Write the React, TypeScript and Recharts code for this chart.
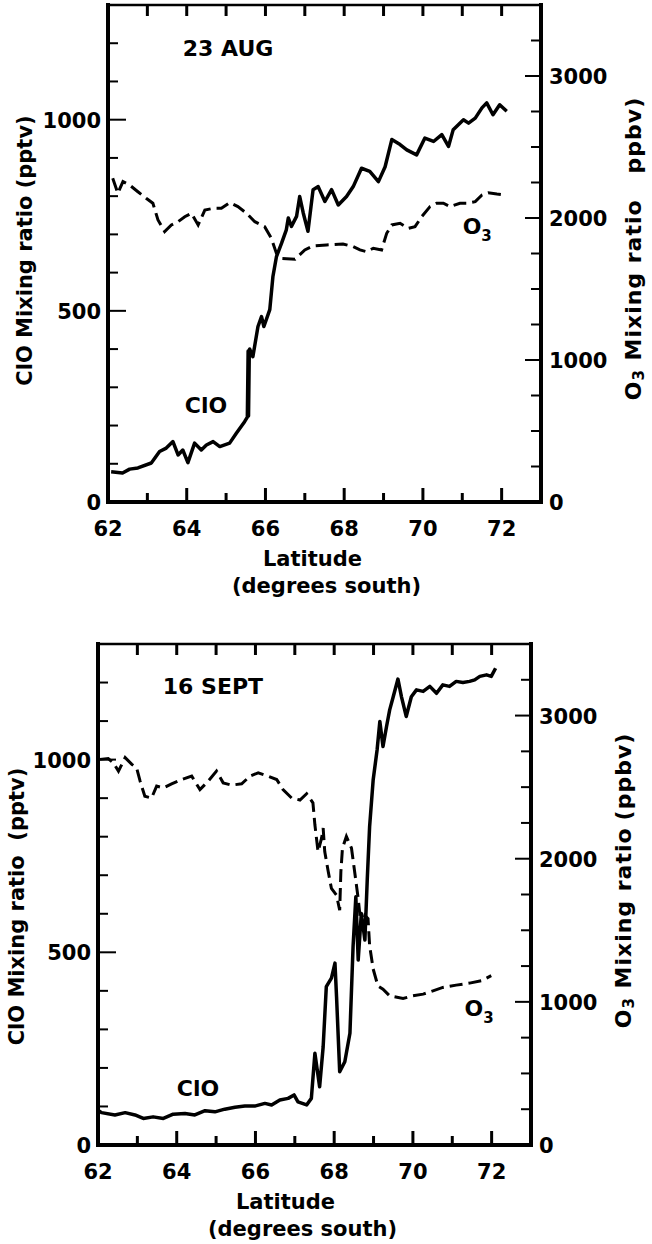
import React from 'react';
import { LineChart, Line, XAxis, YAxis, ReferenceDot } from 'recharts';

const FONT = '"DejaVu Sans", Verdana, sans-serif';

// 23 AUG - ClO (pptv)
const AUG_CLO_LAT = [62.08, 62.37, 62.55, 62.76, 63.1, 63.31, 63.48, 63.65, 63.78, 63.9, 64.03, 64.2, 64.37, 64.5, 64.67, 64.84, 65.09, 65.26, 65.47, 65.54, 65.56, 65.57, 65.59, 65.6, 65.68, 65.81, 65.9, 65.96, 66.11, 66.19, 66.28, 66.41, 66.53, 66.58, 66.66, 66.79, 66.87, 66.96, 67.08, 67.21, 67.34, 67.51, 67.68, 67.85, 68.06, 68.23, 68.44, 68.65, 68.87, 69.04, 69.21, 69.42, 69.59, 69.84, 70.05, 70.27, 70.48, 70.65, 70.77, 71.03, 71.16, 71.33, 71.5, 71.62, 71.78, 71.95, 72.13];
const AUG_CLO = [79, 76, 86, 89, 102, 132, 141, 158, 123, 136, 103, 154, 136, 149, 158, 145, 154, 180, 210, 222, 395, 225, 398, 400, 380, 459, 485, 459, 503, 590, 642, 677, 712, 743, 721, 747, 799, 756, 708, 817, 825, 786, 817, 777, 799, 825, 873, 865, 838, 877, 948, 935, 921, 908, 952, 943, 961, 930, 974, 1000, 991, 1004, 1031, 1044, 1013, 1039, 1022];

// 23 AUG - O3 (ppbv)
const AUG_O3_LAT = [62.12, 62.25, 62.38, 62.55, 62.76, 62.97, 63.14, 63.27, 63.44, 63.61, 63.78, 63.95, 64.12, 64.29, 64.46, 64.67, 64.88, 65.09, 65.3, 65.52, 65.73, 65.98, 66.15, 66.28, 66.41, 66.75, 67.0, 67.21, 67.55, 67.97, 68.23, 68.4, 68.57, 68.74, 68.95, 69.08, 69.21, 69.42, 69.63, 69.8, 69.97, 70.18, 70.35, 70.52, 70.69, 70.94, 71.11, 71.33, 71.5, 71.66, 71.88, 72.09];
const AUG_O3 = [2280, 2174, 2256, 2232, 2185, 2139, 2104, 1986, 1904, 1951, 1974, 2009, 2033, 1951, 2056, 2068, 2068, 2108, 2080, 2033, 1974, 1939, 1857, 1751, 1716, 1709, 1775, 1803, 1810, 1817, 1798, 1775, 1763, 1787, 1775, 1892, 1951, 1963, 1927, 1939, 2009, 2080, 2104, 2104, 2080, 2104, 2104, 2115, 2162, 2178, 2169, 2162];

// 16 SEPT - ClO (pptv)
const SEP_CLO_LAT = [62.0, 62.09, 62.43, 62.69, 62.94, 63.15, 63.4, 63.66, 63.91, 64.21, 64.46, 64.72, 64.97, 65.22, 65.48, 65.73, 65.98, 66.24, 66.41, 66.62, 66.83, 66.98, 67.08, 67.3, 67.42, 67.51, 67.63, 67.72, 67.8, 67.93, 68.02, 68.06, 68.14, 68.27, 68.4, 68.48, 68.55, 68.61, 68.69, 68.78, 68.84, 68.9, 68.99, 69.09, 69.16, 69.24, 69.33, 69.41, 69.5, 69.62, 69.71, 69.83, 69.96, 70.09, 70.26, 70.43, 70.6, 70.76, 70.93, 71.1, 71.27, 71.44, 71.57, 71.7, 71.87, 71.99, 72.1];
const SEP_CLO = [90, 84, 78, 84, 78, 69, 73, 69, 80, 82, 78, 89, 86, 93, 98, 101, 101, 108, 104, 117, 121, 130, 112, 104, 121, 238, 151, 255, 411, 433, 472, 385, 190, 216, 290, 515, 644, 480, 601, 532, 688, 826, 947, 1025, 1099, 1034, 1086, 1129, 1163, 1209, 1163, 1112, 1163, 1181, 1177, 1190, 1172, 1194, 1190, 1203, 1200, 1203, 1207, 1216, 1220, 1216, 1237];

// 16 SEPT - O3 (ppbv)
const SEP_O3_LAT = [62.05, 62.26, 62.39, 62.52, 62.69, 62.86, 62.98, 63.07, 63.19, 63.36, 63.49, 63.66, 63.87, 64.12, 64.38, 64.59, 64.8, 65.01, 65.18, 65.39, 65.65, 65.86, 66.07, 66.32, 66.54, 66.7, 66.92, 67.13, 67.3, 67.46, 67.51, 67.59, 67.68, 67.72, 67.76, 67.85, 67.93, 68.06, 68.14, 68.17, 68.21, 68.31, 68.44, 68.52, 68.61, 68.69, 68.78, 68.86, 68.9, 68.99, 69.11, 69.24, 69.41, 69.75, 70.0, 70.26, 70.51, 70.76, 71.1, 71.44, 71.74, 71.99];
const SEP_O3 = [2694, 2700, 2670, 2612, 2706, 2659, 2635, 2542, 2436, 2424, 2507, 2495, 2523, 2553, 2577, 2483, 2542, 2612, 2530, 2514, 2523, 2577, 2600, 2577, 2553, 2483, 2424, 2410, 2454, 2390, 2237, 2050, 2143, 2214, 2050, 1909, 1792, 1745, 1640, 1909, 2073, 2155, 2073, 1909, 1722, 1511, 1604, 1581, 1394, 1230, 1112, 1089, 1042, 1024, 1042, 1054, 1077, 1101, 1117, 1131, 1148, 1183];

const LAT_TICKS = [62, 63, 64, 65, 66, 67, 68, 69, 70, 71, 72, 73];
const LAT_LABELS = [62, 64, 66, 68, 70, 72];
const CLO_TICKS = [0, 100, 200, 300, 400, 500, 600, 700, 800, 900, 1000, 1100, 1200];
const CLO_LABELS = [0, 500, 1000];
const O3_TICKS = [0, 250, 500, 750, 1000, 1250, 1500, 1750, 2000, 2250, 2500, 2750, 3000, 3250];
const O3_LABELS = [0, 1000, 2000, 3000];

const zip = (lat: number[], v: number[]) => lat.map((l, i) => ({ lat: l, v: v[i] }));

const txt = { fontFamily: FONT, fontWeight: 'bold' as const, fill: '#000' };

const BottomTick = (props: any) => {
  const { x, y, payload } = props;
  const v = payload.value;
  const major = LAT_LABELS.includes(v);
  return (
    <g>
      <line x1={x} x2={x} y1={y} y2={y - (major ? 14 : 9)} stroke="#000" strokeWidth={3} />
      {major && (
        <text x={x} y={y + 34} textAnchor="middle" fontSize={21} {...txt}>
          {v}
        </text>
      )}
    </g>
  );
};

const TopTick = (props: any) => {
  const { x, y } = props;
  return <line x1={x} x2={x} y1={y} y2={y + 11} stroke="#000" strokeWidth={3} />;
};

const LeftTick = (props: any) => {
  const { x, y, payload } = props;
  const major = CLO_LABELS.includes(payload.value);
  return (
    <g>
      <line x1={x} x2={x + (major ? 18 : 10)} y1={y} y2={y} stroke="#000" strokeWidth={2} />
      {major && (
        <text x={x - 7} y={y + 8} textAnchor="end" fontSize={21} {...txt}>
          {payload.value}
        </text>
      )}
    </g>
  );
};

const RightTick = (props: any) => {
  const { x, y, payload } = props;
  const major = O3_LABELS.includes(payload.value);
  return (
    <g>
      <line x1={x} x2={x - (major ? 16 : 10)} y1={y} y2={y} stroke="#000" strokeWidth={2} />
      {major && (
        <text x={x + 8} y={y + 8} textAnchor="start" fontSize={21} {...txt}>
          {payload.value}
        </text>
      )}
    </g>
  );
};

const axisLine = { stroke: '#000', strokeWidth: 4, strokeLinecap: 'square' as const };

type PanelProps = {
  height: number;
  plotTop: number;
  left: number;
  right: number;
  xAxisHeight: number;
  clo: { lat: number; v: number }[];
  o3: { lat: number; v: number }[];
  date: string;
  datePos: [number, number];
  cloPos: [number, number];
  o3Pos: [number, number];
  leftTitle: string;
  leftTitleX: number;
  leftTitleDy: number;
  rightTitleX: number;
  rightTitleDy: number;
  rightOpen: boolean;
  latDx: number;
  degDx: number;
};

const Panel = (p: PanelProps) => {
  const leftLabel = ({ viewBox }: any) => (
    <text
      transform={`translate(${p.leftTitleX},${viewBox.y + viewBox.height / 2 + p.leftTitleDy}) rotate(-90)`}
      textAnchor="middle"
      dominantBaseline="central"
      fontSize={21}
      {...txt}
      style={{ whiteSpace: 'pre' }}
    >
      {p.leftTitle}
    </text>
  );

  const rightLabel = ({ viewBox }: any) => (
    <text
      transform={`translate(${p.rightTitleX},${viewBox.y + viewBox.height / 2 + p.rightTitleDy}) rotate(-90)`}
      textAnchor="middle"
      dominantBaseline="central"
      fontSize={22}
      letterSpacing={1}
      {...txt}
    >
      <tspan>O</tspan>
      <tspan fontSize={15} dy={6}>3</tspan>
      <tspan dy={-6}> Mixing ratio</tspan>
      {p.rightOpen ? <tspan dx={26}>ppbv)</tspan> : <tspan dx={7}>(ppbv)</tspan>}
    </text>
  );

  const xLabel = ({ viewBox }: any) => {
    const cx = viewBox.x + viewBox.width / 2;
    return (
      <g>
        <text x={cx + p.latDx} y={viewBox.y + 64} textAnchor="middle" fontSize={21} {...txt}>
          Latitude
        </text>
        <text x={cx + p.degDx} y={viewBox.y + 91} textAnchor="middle" fontSize={21} {...txt}>
          (degrees south)
        </text>
      </g>
    );
  };

  const o3Label = ({ viewBox }: any) => (
    <text x={viewBox.x} y={viewBox.y + 8} textAnchor="start" fontSize={22} {...txt}>
      <tspan>O</tspan>
      <tspan fontSize={15} dy={7}>3</tspan>
    </text>
  );

  return (
    <LineChart
      width={652}
      height={p.height}
      margin={{ top: p.plotTop - 1, right: 0, left: 0, bottom: 0 }}
      style={{ overflow: 'visible' }}
    >
      <XAxis
        xAxisId="b"
        type="number"
        dataKey="lat"
        domain={[62, 73]}
        ticks={LAT_TICKS}
        interval={0}
        allowDataOverflow
        height={p.xAxisHeight}
        tickSize={0}
        tickMargin={0}
        tickLine={false}
        tick={<BottomTick />}
        axisLine={axisLine}
        label={xLabel}
      />
      <XAxis
        xAxisId="t"
        orientation="top"
        type="number"
        dataKey="lat"
        domain={[62, 73]}
        ticks={LAT_TICKS}
        interval={0}
        allowDataOverflow
        height={1}
        tickSize={0}
        tickMargin={0}
        tickLine={false}
        tick={<TopTick />}
        axisLine={{ stroke: '#000', strokeWidth: 2.5 }}
      />
      <YAxis
        yAxisId="clo"
        type="number"
        domain={[0, 1300]}
        ticks={CLO_TICKS}
        interval={0}
        allowDataOverflow
        width={p.left}
        tickSize={0}
        tickMargin={0}
        tickLine={false}
        tick={<LeftTick />}
        axisLine={axisLine}
        label={leftLabel}
      />
      <YAxis
        yAxisId="o3"
        orientation="right"
        type="number"
        domain={[0, 3500]}
        ticks={O3_TICKS}
        interval={0}
        allowDataOverflow
        width={p.right}
        tickSize={0}
        tickMargin={0}
        tickLine={false}
        tick={<RightTick />}
        axisLine={axisLine}
        label={rightLabel}
      />
      <Line
        xAxisId="b"
        yAxisId="o3"
        data={p.o3}
        dataKey="v"
        type="linear"
        stroke="#000"
        strokeWidth={3}
        strokeDasharray="13 6"
        dot={false}
        activeDot={false}
        isAnimationActive={false}
      />
      <Line
        xAxisId="b"
        yAxisId="clo"
        data={p.clo}
        dataKey="v"
        type="linear"
        stroke="#000"
        strokeWidth={3.5}
        strokeLinejoin="round"
        dot={false}
        activeDot={false}
        isAnimationActive={false}
      />
      <ReferenceDot
        xAxisId="b"
        yAxisId="clo"
        x={p.datePos[0]}
        y={p.datePos[1]}
        r={0}
        fill="none"
        stroke="none"
        ifOverflow="visible"
        label={{ value: p.date, position: 'center', fontSize: 22, fontFamily: FONT, fontWeight: 'bold', fill: '#000' }}
      />
      <ReferenceDot
        xAxisId="b"
        yAxisId="clo"
        x={p.cloPos[0]}
        y={p.cloPos[1]}
        r={0}
        fill="none"
        stroke="none"
        ifOverflow="visible"
        label={{ value: 'ClO', position: 'center', fontSize: 22, fontFamily: FONT, fontWeight: 'bold', fill: '#000' }}
      />
      <ReferenceDot
        xAxisId="b"
        yAxisId="clo"
        x={p.o3Pos[0]}
        y={p.o3Pos[1]}
        r={0}
        fill="none"
        stroke="none"
        ifOverflow="visible"
        label={o3Label}
      />
    </LineChart>
  );
};

export default function App() {
  return (
    <div style={{ position: 'absolute', left: 0, top: 0, width: 652, height: 1244, background: '#fff' }}>
      <div style={{ position: 'absolute', left: 0, top: 0 }}>
        <Panel
          height={610}
          plotTop={5}
          left={108}
          right={111}
          xAxisHeight={108}
          clo={zip(AUG_CLO_LAT, AUG_CLO)}
          o3={zip(AUG_O3_LAT, AUG_O3)}
          date="23 AUG"
          datePos={[65.05, 1188]}
          cloPos={[64.49, 254]}
          o3Pos={[71.01, 722]}
          leftTitle="ClO Mixing ratio (pptv)"
          leftTitleX={25}
          leftTitleDy={-3}
          rightTitleX={633}
          rightTitleDy={-5}
          rightOpen={true}
          latDx={-12}
          degDx={2}
        />
      </div>
      <div style={{ position: 'absolute', left: 0, top: 610 }}>
        <Panel
          height={634}
          plotTop={34}
          left={98}
          right={121}
          xAxisHeight={99}
          clo={zip(SEP_CLO_LAT, SEP_CLO)}
          o3={zip(SEP_O3_LAT, SEP_O3)}
          date="16 SEPT"
          datePos={[64.92, 1191]}
          cloPos={[64.54, 148]}
          o3Pos={[71.31, 355]}
          leftTitle="ClO Mixing ratio  (pptv)"
          leftTitleX={17}
          leftTitleDy={12}
          rightTitleX={623}
          rightTitleDy={-14}
          rightOpen={false}
          latDx={-29}
          degDx={-12}
        />
      </div>
    </div>
  );
}
